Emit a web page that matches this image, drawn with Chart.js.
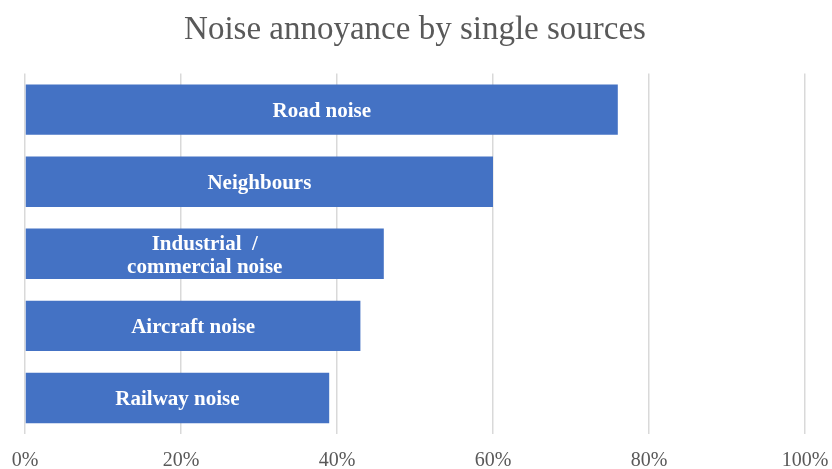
<!DOCTYPE html>
<html>
<head>
<meta charset="utf-8">
<script src="https://cdn.jsdelivr.net/npm/chart.js@4.4.0/dist/chart.umd.min.js"></script>
<style>
  html, body { margin: 0; padding: 0; background: #ffffff; }
  #wrap { width: 832px; height: 469px; }
</style>
</head>
<body>
<div id="wrap"><canvas id="noiseChart"></canvas></div>
<script>
// ==================== DATA ====================
const sources = ['Road noise', 'Neighbours', ['Industrial  /', 'commercial noise'], 'Aircraft noise', 'Railway noise'];
const annoyedShare = [76, 60, 46, 43, 39];
const tickValues = [0, 20, 40, 60, 80, 100];

// -------------------- labels drawn in the middle of each bar --------------------
const barLabels = {
    id: 'barLabels',
    afterDatasetsDraw(chart) {
        const ctx = chart.ctx;
        const meta = chart.getDatasetMeta(0);
        ctx.save();
        ctx.fillStyle = '#ffffff';
        ctx.font = 'bold 21px "Liberation Serif"';
        ctx.textAlign = 'center';
        ctx.textBaseline = 'middle';
        meta.data.forEach((bar, i) => {
            const lbl = chart.data.labels[i];
            const lines = Array.isArray(lbl) ? lbl : [lbl];
            const cx = (bar.x + bar.base) / 2;
            const lh = 23;
            lines.forEach((line, j) => {
                ctx.fillText(line, cx, bar.y + 2 + (j - (lines.length - 1) / 2) * lh);
            });
        });
        ctx.restore();
    }
};

new Chart(document.getElementById('noiseChart'), {
    type: 'bar',
    data: {
        labels: sources,
        datasets: [{
            data: annoyedShare,
            backgroundColor: '#4472C4',
            borderWidth: 0,
            barPercentage: 0.70,
            categoryPercentage: 1.0
        }]
    },
    options: {
        indexAxis: 'y',
        responsive: true,
        maintainAspectRatio: false,
        animation: false,
        layout: { padding: { left: 25, right: 27, top: 0, bottom: 0 } },
        plugins: {
            legend: { display: false },
            tooltip: { enabled: false },
            title: {
                display: true,
                text: 'Noise annoyance by single sources',
                color: '#595959',
                font: { family: '"Liberation Serif"', size: 33, weight: 'normal', lineHeight: 1.2 },
                padding: { top: 11, bottom: 23 }
            }
        },
        scales: {
            x: {
                min: 0,
                max: 100,
                afterBuildTicks(axis) { axis.ticks = tickValues.map(v => ({ value: v })); },
                afterFit(axis) {
                    // keep the plot box where the reference has it
                    axis.height = 35;
                    axis.paddingLeft = 0;
                    axis.paddingRight = 0;
                },
                grid: { color: '#d9d9d9', lineWidth: 1.5, drawTicks: false },
                border: { display: false },
                ticks: {
                    color: '#595959',
                    font: { family: '"Liberation Serif"', size: 20, lineHeight: 1 },
                    padding: 17,
                    maxRotation: 0,
                    callback: v => v + '%'
                }
            },
            y: {
                display: false,
                grid: { display: false }
            }
        }
    },
    plugins: [barLabels]
});
</script>
</body>
</html>
